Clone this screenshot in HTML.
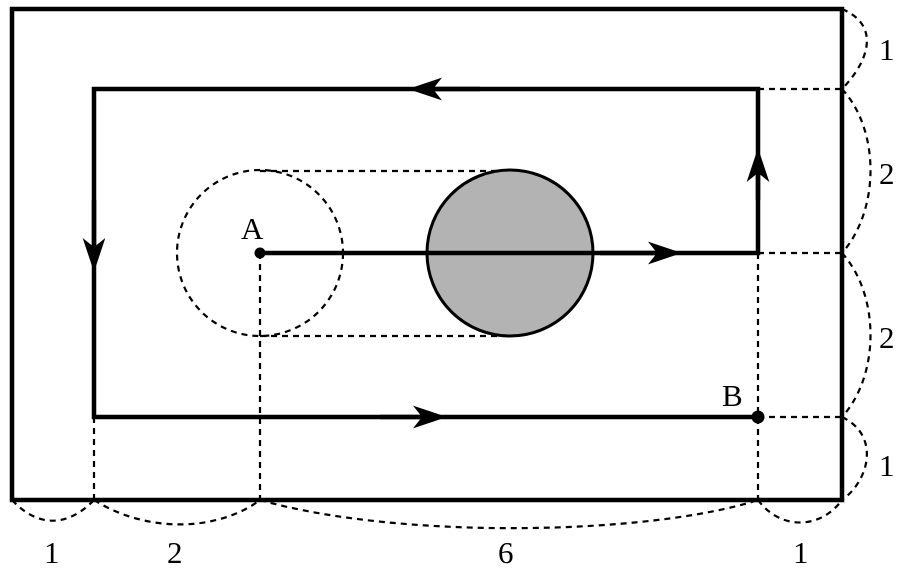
<!DOCTYPE html>
<html><head><style>body{margin:0;background:#fff}svg{display:block}text{font-family:"Liberation Serif",serif;font-size:31px}</style></head><body>
<svg width="900" height="573" viewBox="0 0 900 573">
<defs><marker id="ar" viewBox="0 0 30 20" refX="15" refY="10" markerWidth="34" markerHeight="24" markerUnits="userSpaceOnUse" orient="auto"><path d="M0,0 L30,10 L0,20 L8,10 Z" fill="#000"/></marker></defs>
<g fill="none" stroke="#000" stroke-width="2.2" stroke-dasharray="6,5">
<circle cx="260" cy="253" r="83"/>
<line x1="260" y1="171" x2="510" y2="171"/><line x1="260" y1="336" x2="510" y2="336"/>
<line x1="260" y1="253" x2="260" y2="500"/><line x1="94" y1="417" x2="94" y2="500"/>
<line x1="758" y1="253" x2="758" y2="500"/>
<line x1="758" y1="89" x2="842" y2="89"/><line x1="758" y1="253" x2="842" y2="253"/><line x1="758" y1="417" x2="842" y2="417"/>
<path d="M842,9 C880,25 870,60 842,89"/>
<path d="M842,89 C880,130 880,210 842,253"/>
<path d="M842,253 C880,295 880,375 842,417"/>
<path d="M842,417 C880,435 870,480 842,500"/>
<path d="M12,500 C40,530 70,525 94,500"/>
<path d="M94,500 C150,535 220,530 260,500"/>
<path d="M260,500 C400,540 650,535 758,500"/>
<path d="M758,500 C780,530 820,530 842,500"/>
</g>
<rect x="12" y="9" width="830" height="491" fill="none" stroke="#000" stroke-width="4.5"/>
<circle cx="510" cy="253" r="83" fill="#b3b3b3" stroke="#000" stroke-width="3"/>
<g stroke="#000" stroke-width="4.5" fill="none">
<path d="M260,253 H758 V89 H94 V417 H758"/>
<path d="M600,253 L665,253" marker-end="url(#ar)"/>
<path d="M758,200 L758,165" marker-end="url(#ar)"/>
<path d="M480,89 L425,89" marker-end="url(#ar)"/>
<path d="M94,200 L94,255" marker-end="url(#ar)"/>
<path d="M380,417 L430,417" marker-end="url(#ar)"/>
</g>
<circle cx="260" cy="253" r="5.5"/><circle cx="758" cy="417" r="6.5"/>
<text x="241" y="239">A</text><text x="722" y="406">B</text>
<text x="879" y="60">1</text><text x="879" y="184">2</text><text x="879" y="348">2</text><text x="879" y="476">1</text>
<text x="44" y="563">1</text><text x="167" y="563">2</text><text x="498" y="563">6</text><text x="793" y="563">1</text>
</svg></body></html>
